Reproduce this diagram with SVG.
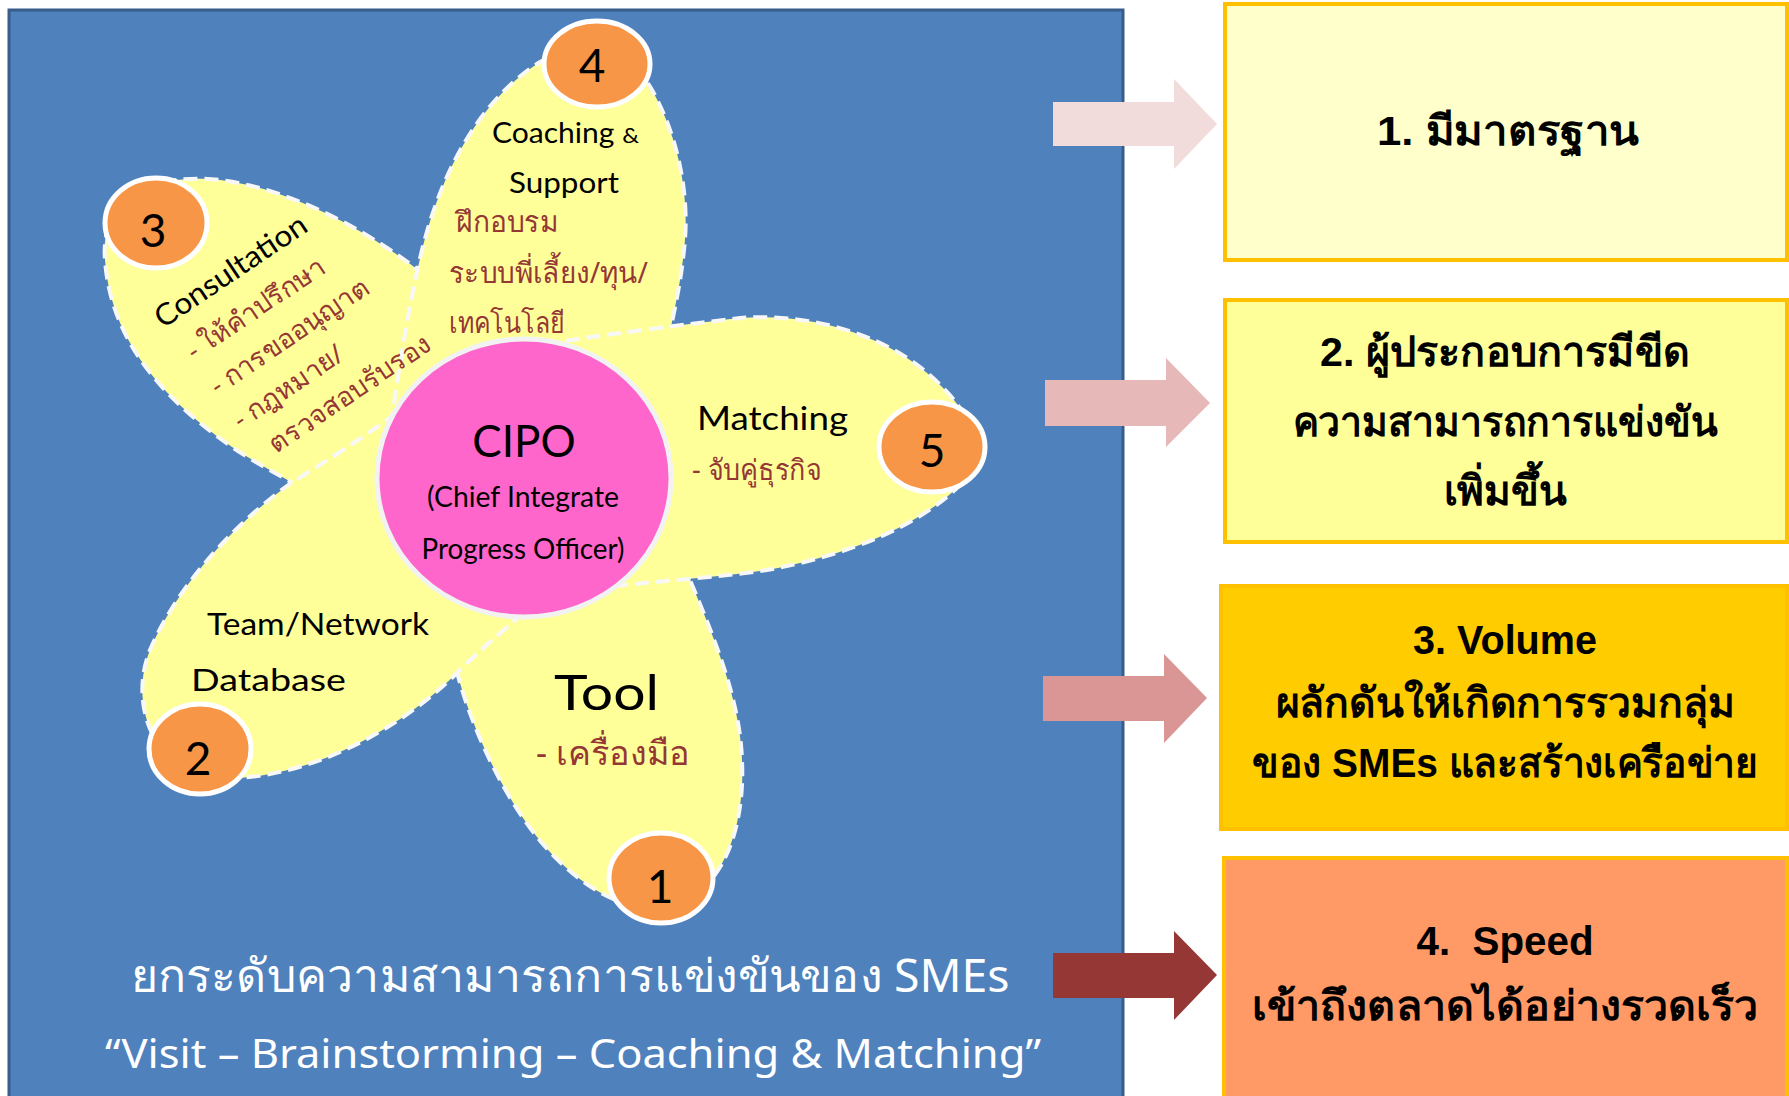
<svg xmlns="http://www.w3.org/2000/svg" width="1789" height="1096" viewBox="0 0 1789 1096">
<style>
.petal{fill:#ffff99;stroke:#f8f8f8;stroke-width:4;stroke-dasharray:14 7;}
.num{fill:#f79646;stroke:#ffffff;stroke-width:5;}
.numt{font-family:Lato,"Open Sans",sans-serif;font-size:46px;fill:#000;text-anchor:middle;}
.lat{font-family:Lato,"Open Sans",sans-serif;fill:#000;}
.thr{font-family:"Noto Sans","Liberation Sans",sans-serif;fill:#953735;}
.box{stroke:#ffc000;stroke-width:4;}
.bt{font-family:"Liberation Sans","Noto Sans",sans-serif;font-weight:bold;fill:#000;text-anchor:middle;font-size:41px;}
.wt{font-family:"Noto Sans",Lato,sans-serif;fill:#ffffff;text-anchor:middle;}
</style>
<rect width="1789" height="1096" fill="#ffffff"/>
<rect id="panel" x="9" y="10" width="1114" height="1100" fill="#4f81bd" stroke="#385d8a" stroke-width="3"/>

<g id="connectors">
<polygon points="1053,102 1174,102 1174,79 1217,124 1174,169 1174,146 1053,146" fill="#f2dcdb"/>
<polygon points="1045,380 1166,380 1166,358 1210,403 1166,447 1166,426 1045,426" fill="#e6b9b8"/>
<polygon points="1043,676 1164,676 1164,654 1207,698 1164,743 1164,721 1043,721" fill="#d99694"/>
<polygon points="1053,953 1174,953 1174,931 1217,975 1174,1020 1174,998 1053,998" fill="#953735"/>
</g>

<g id="petal1"><path class="petal" d="M520,560 L440,640 L457,672 C472,730 510,815 560,862 C600,900 640,915 675,905 C725,888 745,825 742,760 C740,700 715,640 690,580 L640,520 Z"/></g>
<g id="petal3"><path class="petal" d="M460,300 L422,273 C380,240 300,190 220,180 C150,172 100,200 105,260 C110,330 150,390 232,447 C260,466 290,480 320,500 L460,420 Z"/></g>
<g id="petal2"><path class="petal" d="M460,520 L398,412 C360,440 320,465 291,483 C240,520 180,580 150,650 C130,700 150,760 200,775 C240,785 300,770 340,752 C390,730 430,700 460,670 C480,650 500,633 525,612 Z"/></g>
<g id="petal4"><path class="petal" d="M480,440 L392,418 C400,360 410,300 422,250 C442,170 480,100 540,62 C580,40 630,50 652,90 C680,140 690,200 684,250 C680,290 672,320 660,380 L560,440 Z"/></g>
<g id="petal5"><path class="petal" d="M600,450 L540,345 C600,335 680,325 740,318 C820,312 900,340 945,390 C975,420 985,460 960,485 C920,525 850,555 767,570 C720,577 670,580 615,586 Z"/></g>

<g id="cipo">
<ellipse cx="524" cy="478" rx="147" ry="139" fill="#ff66cc" stroke="#f2f2f2" stroke-width="5"/>
<text class="lat" x="524" y="457" font-size="44" text-anchor="middle">CIPO</text>
<text class="lat" x="523" y="507" font-size="28" text-anchor="middle" textLength="192" lengthAdjust="spacingAndGlyphs">(Chief Integrate</text>
<text class="lat" x="523" y="559" font-size="28" text-anchor="middle" textLength="203" lengthAdjust="spacingAndGlyphs">Progress Officer)</text>
</g>

<g id="n1"><ellipse class="num" cx="661" cy="878" rx="52" ry="45"/><text class="numt" x="660" y="903">1</text></g>
<g id="n2"><ellipse class="num" cx="200" cy="749" rx="51" ry="45"/><text class="numt" x="198" y="775">2</text></g>
<g id="n3"><ellipse class="num" cx="156" cy="223" rx="51" ry="45"/><text class="numt" x="153" y="247">3</text></g>
<g id="n4"><ellipse class="num" cx="597" cy="64" rx="53" ry="43"/><text class="numt" x="592" y="82">4</text></g>
<g id="n5"><ellipse class="num" cx="932" cy="447" rx="53" ry="45"/><text class="numt" x="932" y="467">5</text></g>

<g id="t4">
<text class="lat" x="492" y="143" font-size="28" textLength="147" lengthAdjust="spacingAndGlyphs">Coaching <tspan font-size="22">&amp;</tspan></text>
<text class="lat" x="509" y="193" font-size="28" textLength="110" lengthAdjust="spacingAndGlyphs">Support</text>
<text class="thr" x="456" y="232" font-size="29" textLength="102" lengthAdjust="spacingAndGlyphs">ฝึกอบรม</text>
<text class="thr" x="449" y="283" font-size="29" textLength="199" lengthAdjust="spacingAndGlyphs">ระบบพี่เลี้ยง/ทุน/</text>
<text class="thr" x="449" y="333" font-size="29" textLength="116" lengthAdjust="spacingAndGlyphs">เทคโนโลยี</text>
</g>
<g id="t3" transform="translate(163,329) rotate(-34)">
<text class="lat" x="0" y="0" font-size="30" textLength="177" lengthAdjust="spacingAndGlyphs">Consultation</text>
<text class="thr" x="8" y="44" font-size="27">- ให้คำปรึกษา</text>
<text class="thr" x="8" y="86" font-size="27">- การขออนุญาต</text>
<text class="thr" x="8" y="127" font-size="27">- กฎหมาย/</text>
<text class="thr" x="24" y="167" font-size="27">ตรวจสอบรับรอง</text>
</g>
<g id="t5">
<text class="lat" x="697" y="430" font-size="32" textLength="151" lengthAdjust="spacingAndGlyphs">Matching</text>
<text class="thr" x="692" y="480" font-size="29" textLength="130" lengthAdjust="spacingAndGlyphs">- จับคู่ธุรกิจ</text>
</g>
<g id="t2">
<text class="lat" x="207" y="635" font-size="30" textLength="222" lengthAdjust="spacingAndGlyphs">Team/Network</text>
<text class="lat" x="191" y="691" font-size="30" textLength="155" lengthAdjust="spacingAndGlyphs">Database</text>
</g>
<g id="t1">
<text class="lat" x="554" y="710" font-size="48" textLength="105" lengthAdjust="spacingAndGlyphs">Tool</text>
<text class="thr" x="536" y="765" font-size="34" textLength="153" lengthAdjust="spacingAndGlyphs">- เครื่องมือ</text>
</g>

<g id="bottom">
<text class="wt" x="570" y="992" font-size="46" textLength="879" lengthAdjust="spacingAndGlyphs">ยกระดับความสามารถการแข่งขันของ SMEs</text>
<text class="wt" x="573" y="1068" font-size="40" textLength="936" lengthAdjust="spacingAndGlyphs">“Visit – Brainstorming – Coaching &amp; Matching”</text>
</g>

<g id="box1"><rect class="box" x="1225" y="4" width="562" height="256" fill="#ffffcc"/>
<text class="bt" x="1508" y="145" textLength="262" lengthAdjust="spacingAndGlyphs">1. มีมาตรฐาน</text></g>
<g id="box2"><rect class="box" x="1225" y="300" width="562" height="242" fill="#ffff99"/>
<text class="bt" x="1505" y="366" textLength="370" lengthAdjust="spacingAndGlyphs">2. ผู้ประกอบการมีขีด</text>
<text class="bt" x="1505" y="436" textLength="425" lengthAdjust="spacingAndGlyphs">ความสามารถการแข่งขัน</text>
<text class="bt" x="1505" y="505" textLength="123" lengthAdjust="spacingAndGlyphs">เพิ่มขึ้น</text></g>
<g id="box3"><rect class="box" x="1221" y="586" width="566" height="243" fill="#ffcc00"/>
<text class="bt" x="1505" y="654" textLength="184" lengthAdjust="spacingAndGlyphs">3. Volume</text>
<text class="bt" x="1505" y="717" textLength="459" lengthAdjust="spacingAndGlyphs">ผลักดันให้เกิดการรวมกลุ่ม</text>
<text class="bt" x="1505" y="777" textLength="506" lengthAdjust="spacingAndGlyphs">ของ SMEs และสร้างเครือข่าย</text></g>
<g id="box4"><rect class="box" x="1224" y="858" width="563" height="260" fill="#ff9966"/>
<text class="bt" x="1505" y="955" textLength="177" lengthAdjust="spacingAndGlyphs">4.&#160; Speed</text>
<text class="bt" x="1505" y="1020" textLength="506" lengthAdjust="spacingAndGlyphs">เข้าถึงตลาดได้อย่างรวดเร็ว</text></g>
</svg>
